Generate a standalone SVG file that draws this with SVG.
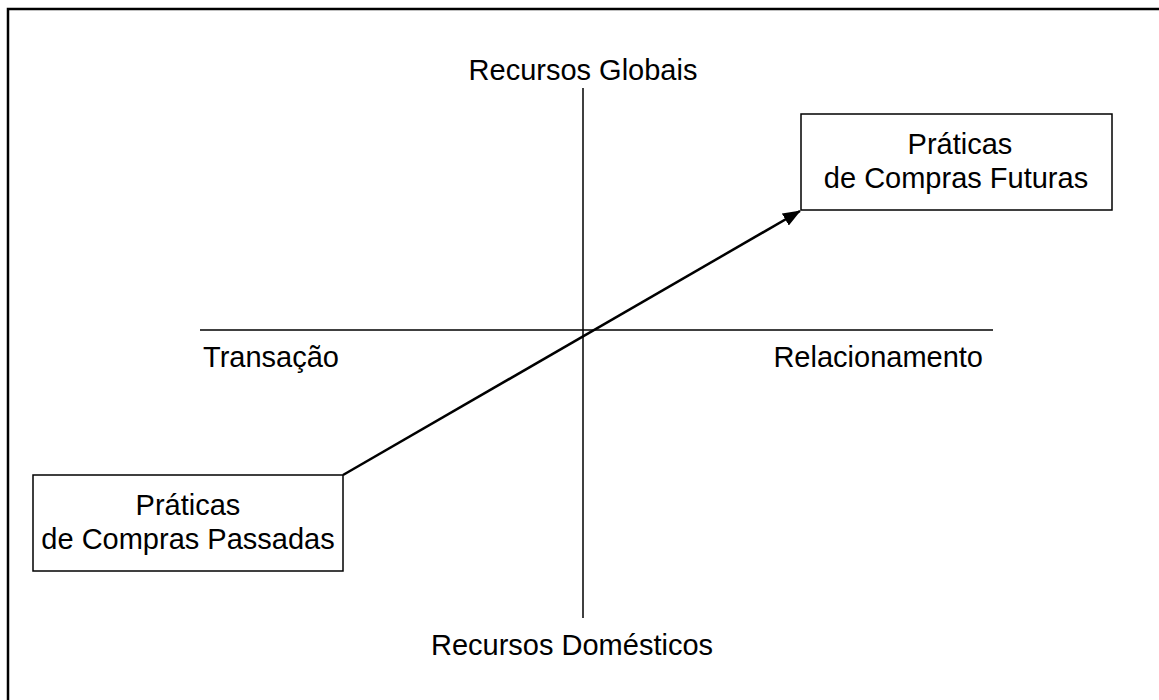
<svg xmlns="http://www.w3.org/2000/svg" width="1159" height="700" viewBox="0 0 1159 700">
<defs>
<style>
text{font-family:"Liberation Sans",Arial,sans-serif;font-size:29px;fill:#000}
.box{fill:#fff;stroke:#000;stroke-width:1.5}
.axis{stroke:#000;stroke-width:1.5;fill:none}
</style>
<marker id="ah" markerWidth="18" markerHeight="14" refX="17" refY="7" orient="auto" markerUnits="userSpaceOnUse" viewBox="0 0 18 14">
<path d="M0,0 L18,7 L0,14 Z" fill="#000"/>
</marker>
</defs>
<rect width="1159" height="700" fill="#fff"/>
<rect x="8" y="9" width="1250" height="800" fill="none" stroke="#000" stroke-width="2.5"/>
<g id="axes">
<line class="axis" x1="583" y1="88" x2="583" y2="618"/>
<line class="axis" x1="200" y1="330" x2="993" y2="330"/>
</g>
<g id="labels">
<text x="583" y="80" text-anchor="middle">Recursos Globais</text>
<text x="203" y="367">Transação</text>
<text x="983" y="367" text-anchor="end">Relacionamento</text>
<text x="572" y="655" text-anchor="middle">Recursos Domésticos</text>
</g>
<g id="connectors">
<line x1="343" y1="475" x2="800" y2="211" stroke="#000" stroke-width="2.5" marker-end="url(#ah)"/>
</g>
<g id="node-passadas">
<rect class="box" x="33" y="475" width="310" height="96"/>
<text x="188" y="515" text-anchor="middle">Práticas</text>
<text x="188" y="549" text-anchor="middle">de Compras Passadas</text>
</g>
<g id="node-futuras">
<rect class="box" x="801" y="114" width="311" height="96"/>
<text x="960" y="154" text-anchor="middle">Práticas</text>
<text x="956" y="188" text-anchor="middle">de Compras Futuras</text>
</g>
</svg>
